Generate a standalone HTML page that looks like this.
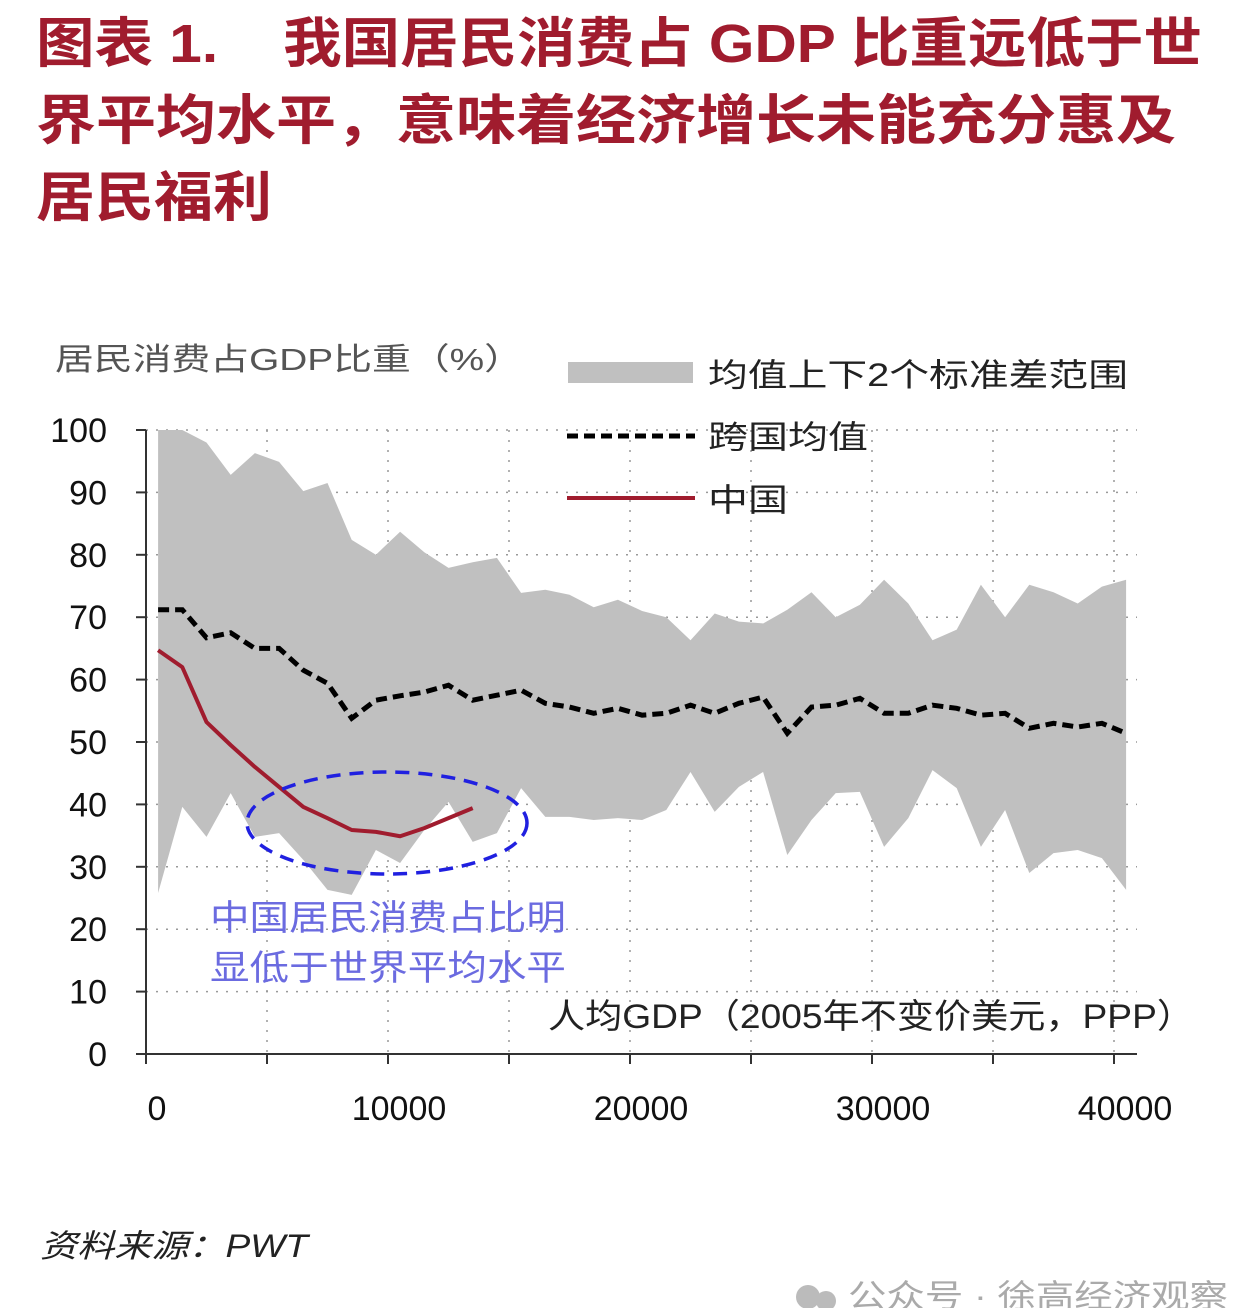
<!DOCTYPE html>
<html><head><meta charset="utf-8">
<style>
body{margin:0;background:#fff;}
svg{display:block;font-family:"Liberation Sans","Noto Sans CJK SC",sans-serif;}
.pre{white-space:pre;}
</style></head>
<body>
<svg id="chart" width="1244" height="1308" viewBox="0 0 1244 1308">
  <g fill="#a01c2e" font-weight="bold" font-size="54">
    <text class="pre" xml:space="preserve" x="36" y="62" textLength="1166" lengthAdjust="spacingAndGlyphs">图表 1.    我国居民消费占 GDP 比重远低于世</text>
    <text x="36" y="139" textLength="1140" lengthAdjust="spacingAndGlyphs">界平均水平，意味着经济增长未能充分惠及</text>
    <text x="36" y="216" textLength="236" lengthAdjust="spacingAndGlyphs">居民福利</text>
  </g>
  <text x="55" y="370" font-size="31" fill="#555" textLength="468" lengthAdjust="spacingAndGlyphs">居民消费占GDP比重（%）</text>
  <g id="plot"></g>
  <g font-size="32" fill="#222">
    <rect x="568" y="362" width="125" height="21" fill="#c0c0c0"/>
    <text x="708" y="386" textLength="420" lengthAdjust="spacingAndGlyphs">均值上下2个标准差范围</text>
    <line x1="567" y1="436" x2="695" y2="436" stroke="#000" stroke-width="5" stroke-dasharray="11,6"/>
    <text x="708" y="448" textLength="160" lengthAdjust="spacingAndGlyphs">跨国均值</text>
    <line x1="567" y1="498" x2="695" y2="498" stroke="#a01c2e" stroke-width="4"/>
    <text x="708" y="511" textLength="80" lengthAdjust="spacingAndGlyphs">中国</text>
  </g>
  <g fill="#6b6be0" font-size="35">
    <text x="210" y="930" textLength="356" lengthAdjust="spacingAndGlyphs">中国居民消费占比明</text>
    <text x="210" y="980" textLength="356" lengthAdjust="spacingAndGlyphs">显低于世界平均水平</text>
  </g>
  <text x="548" y="1028" font-size="34" fill="#222" textLength="646" lengthAdjust="spacingAndGlyphs">人均GDP（2005年不变价美元，PPP）</text>
  <text x="40" y="1257" font-size="32" font-style="italic" fill="#222" textLength="268" lengthAdjust="spacingAndGlyphs">资料来源：PWT</text>
  <g>
    <circle cx="808" cy="1297" r="12" fill="#bbb"/>
    <circle cx="826" cy="1301" r="10" fill="#bbb"/>
    <text x="848" y="1307" font-size="32" fill="#aaa" textLength="380" lengthAdjust="spacingAndGlyphs">公众号 · 徐高经济观察</text>
  </g>
</svg>
<script>
const xValues = [500,1500,2500,3500,4500,5500,6500,7500,8500,9500,10500,11500,12500,13500,14500,15500,16500,17500,18500,19500,20500,21500,22500,23500,24500,25500,26500,27500,28500,29500,30500,31500,32500,33500,34500,35500,36500,37500,38500,39500,40500];
const upperBand = [100,100,98,92.8,96.3,94.9,90.2,91.5,82.4,80,83.7,80.4,77.9,78.8,79.5,73.9,74.4,73.6,71.6,72.8,71,70,66.3,70.6,69.3,69,71.2,74,70,72,76,72.2,66.3,68,75.2,70,75.2,74,72.2,74.9,76];
const lowerBand = [25.8,39.6,34.8,41.8,34.8,35.4,31.1,26.3,25.5,32.7,30.6,35.9,40.4,34,35.4,42.6,38,38,37.5,37.8,37.5,39.1,45.2,38.8,42.8,45.2,31.9,37.5,41.8,42,33.2,37.8,45.5,42.6,33.2,39.1,29,32.2,32.7,31.4,26.3];
const meanSeries = [71.2,71.2,66.7,67.5,65,65,61.5,59.4,53.8,56.7,57.4,58,59.1,56.7,57.5,58.3,56.2,55.6,54.6,55.4,54.3,54.6,55.9,54.6,56.2,57.2,51.4,55.6,55.9,57,54.6,54.6,55.9,55.4,54.3,54.6,52.2,53,52.4,53,51.4];
const chinaSeries = [64.7,62,53.2,49.5,46,42.8,39.6,37.8,35.9,35.6,34.9,36.2,37.8,39.4];
const yTicks = [0,10,20,30,40,50,60,70,80,90,100];
const xTickLabels = [0,10000,20000,30000,40000];
const xGrid = [5000,10000,15000,20000,25000,30000,35000,40000];

const NS="http://www.w3.org/2000/svg";
const plot=document.getElementById('plot');
const X0=146, XS=0.0242, Y0=1054, YS=6.24;
const sx=v=>X0+v*XS, sy=v=>Y0-v*YS;
function mk(tag,attrs,parent){const e=document.createElementNS(NS,tag);for(const k in attrs)e.setAttribute(k,attrs[k]);(parent||plot).appendChild(e);return e;}

yTicks.forEach(t=>{ if(t===0) return;
  const g=mk('line',{x1:X0,x2:1137,y1:sy(t),y2:sy(t),stroke:'#999','stroke-width':1.5,'stroke-dasharray':'2,8'});
  
  
});
xGrid.forEach(t=>{
  const g=mk('line',{x1:sx(t),x2:sx(t),y1:sy(100),y2:Y0,stroke:'#999','stroke-width':1.5,'stroke-dasharray':'2,8'});
  
  
});
let pts=xValues.map((x,i)=>sx(x)+','+sy(upperBand[i]));
for(let i=xValues.length-1;i>=0;i--) pts.push(sx(xValues[i])+','+sy(lowerBand[i]));
const band=mk('polygon',{points:pts.join(' '),fill:'#c0c0c0'});


const mean=mk('polyline',{points:xValues.map((x,i)=>sx(x)+','+sy(meanSeries[i])).join(' '),fill:'none',stroke:'#000','stroke-width':5,'stroke-dasharray':'11,6'});


const china=mk('polyline',{points:chinaSeries.map((v,i)=>sx(xValues[i])+','+sy(v)).join(' '),fill:'none',stroke:'#a01c2e','stroke-width':4,'stroke-linejoin':'round'});


const el=mk('ellipse',{cx:387,cy:823,rx:140,ry:51,fill:'none',stroke:'#2020e0','stroke-width':3.5,'stroke-dasharray':'14,9'});


const ya=mk('line',{x1:X0,x2:X0,y1:sy(100),y2:Y0,stroke:'#333','stroke-width':2});


const xa=mk('line',{x1:X0,x2:1137,y1:Y0,y2:Y0,stroke:'#333','stroke-width':2});


yTicks.forEach(t=>{
  mk('line',{x1:X0-10,x2:X0,y1:sy(t),y2:sy(t),stroke:'#333','stroke-width':2});
  const lb=mk('text',{x:107,y:sy(t)+12,'text-anchor':'end','font-size':34,fill:'#111'});
  lb.textContent=t;
  
  
});
[0].concat(xGrid).forEach(t=>{
  mk('line',{x1:sx(t),x2:sx(t),y1:Y0,y2:Y0+10,stroke:'#333','stroke-width':2});
});
xTickLabels.forEach(t=>{
  const lb=mk('text',{x:sx(t)+11,y:1120,'text-anchor':'middle','font-size':34,fill:'#111'});
  lb.textContent=t;
  
  
});
</script>
</body></html>
